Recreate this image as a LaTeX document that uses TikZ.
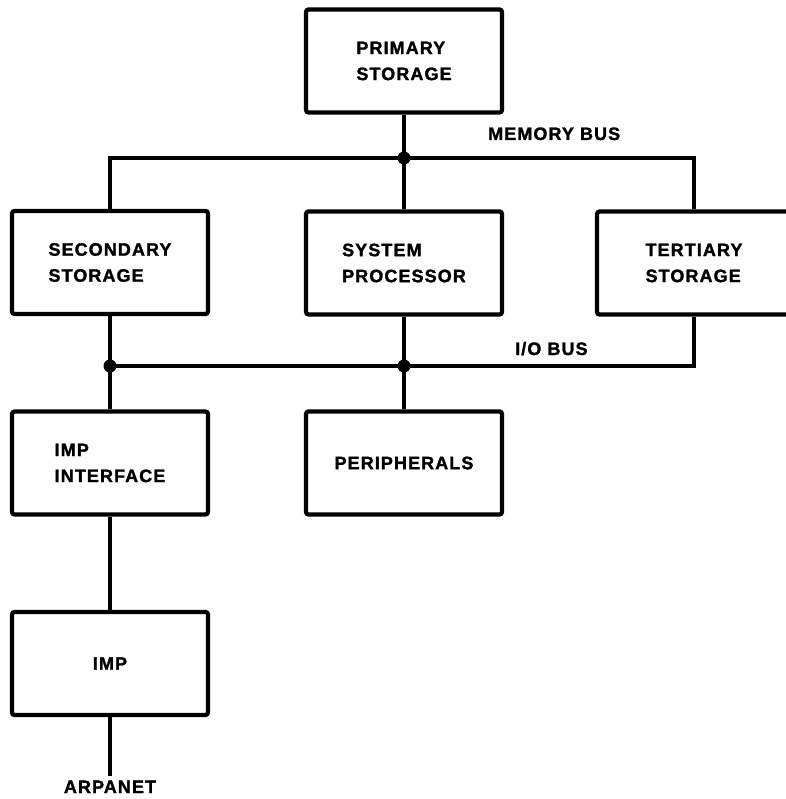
\documentclass[tikz,border=0pt]{standalone}
\usepackage{fontspec}
\newfontfamily\lblfont{Liberation Sans Bold}[LetterSpace=6, FakeBold=1.5]
\begin{document}
\begin{tikzpicture}[x=1pt,y=-1pt,
  unitbox/.style={draw=black, line width=4.2pt, rounded corners=2.5pt,
    minimum width=196pt, minimum height=103pt, inner sep=0pt,
    align=left, font=\lblfont\fontsize{18}{26}\selectfont},
  bus/.style={line width=3.6pt},
  buslabel/.style={inner sep=0pt, anchor=base west,
    font=\lblfont\fontsize{18}{26}\selectfont},
  junction/.style={fill=black}
]
\useasboundingbox[fill=white] (0,0) rectangle (785,799);

% units of the system
\node[unitbox] (prim) at (404,61)    {PRIMARY\\STORAGE};
\node[unitbox] (sec)  at (110,262.5) {SECONDARY\\STORAGE};
\node[unitbox] (sys)  at (404,263)   {SYSTEM\\PROCESSOR};
\node[unitbox, minimum width=194pt] (ter) at (694,263) {TERTIARY\\STORAGE};
\node[unitbox] (impi) at (110,463)   {IMP\\INTERFACE};
\node[unitbox] (per)  at (404,463)   {PERIPHERALS};
\node[unitbox] (imp)  at (110,663.5) {IMP};
\node[buslabel, anchor=base, inner sep=4pt] (arp) at (110,793) {ARPANET};

% bus junctions
\coordinate (mj) at (404,158);
\coordinate (il) at (110,366);
\coordinate (ij) at (404,366);

% memory bus
\draw[bus] (prim.south) -- (mj);
\draw[bus] (sec.north) |- (mj) -| (ter.north);
\draw[bus] (sys.north) -- (mj);
\node[buslabel] (memlbl) at (488,140) {MEMORY BUS};

% I/O bus
\draw[bus] (sec.south) -- (impi.north);
\draw[bus] (il) -| (ter.south);
\draw[bus] (sys.south) -- (per.north);
\node[buslabel] (iolbl) at (515,355) {I/O BUS};

% network link
\draw[bus] (impi.south) -- (imp.north);
\draw[bus] (imp.south) -- (arp.north);

% junction dots
\fill[junction] (mj) circle (6.5pt);
\fill[junction] (il) circle (6.5pt);
\fill[junction] (ij) circle (6.5pt);
\end{tikzpicture}
\end{document}
